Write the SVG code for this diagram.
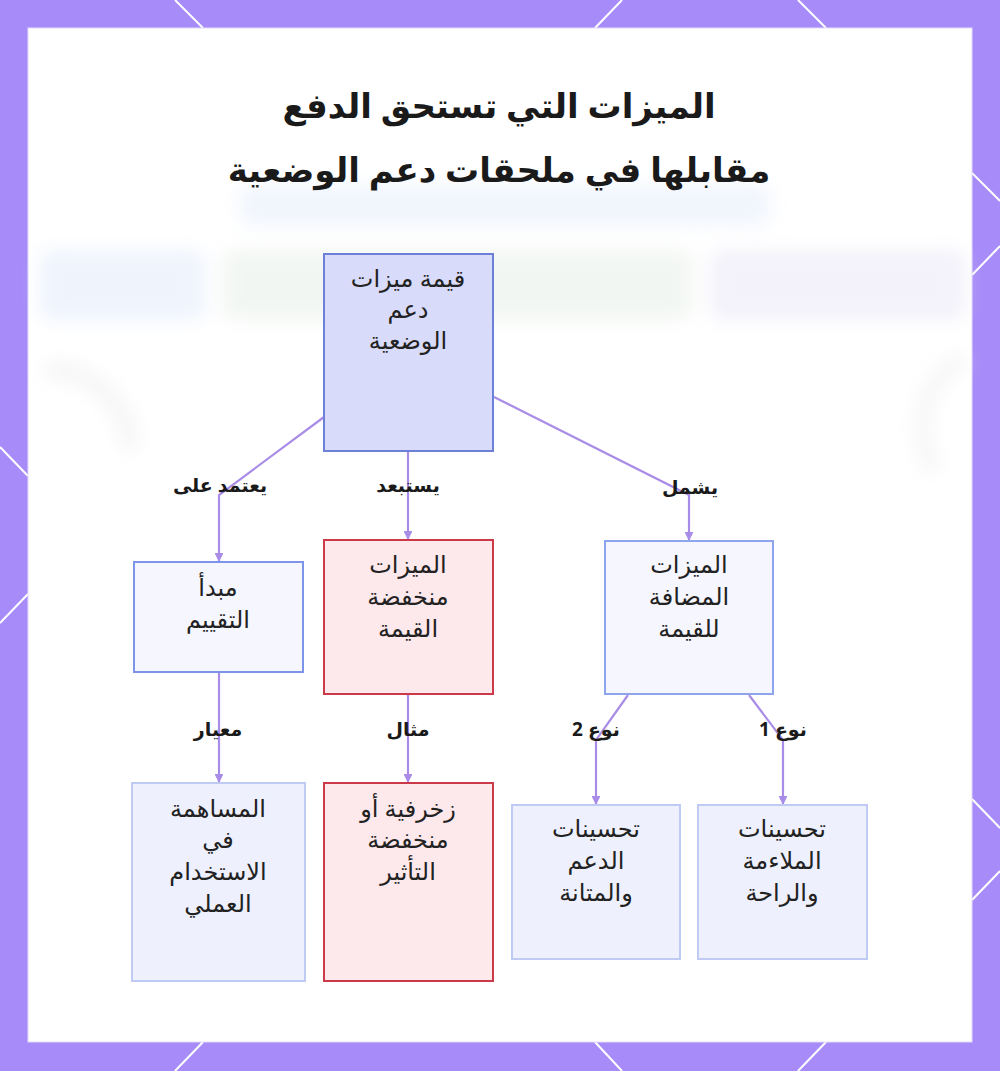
<svg xmlns="http://www.w3.org/2000/svg" width="1000" height="1071" viewBox="0 0 1000 1071">
<defs>
<style>
.t{font-family:"Noto Sans","DejaVu Sans",sans-serif;font-size:24px;fill:#222;text-anchor:middle}
.ttl{font-family:"Noto Sans","DejaVu Sans",sans-serif;font-size:34px;font-weight:bold;fill:#1a1a1a;text-anchor:middle}
.lbl{font-family:"Noto Sans","DejaVu Sans",sans-serif;font-size:19px;font-weight:bold;fill:#1a1a1a;text-anchor:middle}
.hex{stroke:#ffffff;stroke-width:2;fill:none}
.edge{stroke:#a98ce8;stroke-width:2.2;fill:none;marker-end:url(#ah)}
.root{fill:#d9dbfb;stroke:#6c80d8;stroke-width:2}
.mid{fill:#f5f6fe;stroke:#7d95e8;stroke-width:2}
.light{fill:#eef1fd;stroke:#c0cbf4;stroke-width:2}
.red{fill:#fde8eb;stroke:#cc3a4a;stroke-width:2}
</style>
<marker id="ah" viewBox="0 0 10 10" refX="9" refY="5" markerWidth="4" markerHeight="4" orient="auto">
<path d="M0,0 L10,5 L0,10 z" fill="#a98ce8"/>
</marker>
<filter id="blur" x="-20%" y="-20%" width="140%" height="140%"><feGaussianBlur stdDeviation="9"/></filter>
</defs>

<rect x="0" y="0" width="1000" height="1071" fill="#a78bf8"/>
<g id="frame-lines">
<line class="hex" x1="175" y1="0" x2="203" y2="28"/>
<line class="hex" x1="622" y1="0" x2="595" y2="28"/>
<line class="hex" x1="798" y1="0" x2="826" y2="28"/>
<line class="hex" x1="203" y1="1042" x2="175" y2="1071"/>
<line class="hex" x1="595" y1="1042" x2="622" y2="1071"/>
<line class="hex" x1="826" y1="1042" x2="798" y2="1071"/>
<line class="hex" x1="0" y1="447" x2="28" y2="476"/>
<line class="hex" x1="28" y1="594" x2="0" y2="623"/>
<line class="hex" x1="972" y1="173" x2="1000" y2="201"/>
<line class="hex" x1="972" y1="275" x2="1000" y2="246"/>
<line class="hex" x1="972" y1="799" x2="1000" y2="828"/>
<line class="hex" x1="972" y1="900" x2="1000" y2="871"/>
</g>
<rect x="28" y="28" width="944" height="1014" fill="#ffffff" stroke="#e4dcfb" stroke-width="1"/>

<g id="background" filter="url(#blur)" opacity="0.5">
<rect x="40" y="250" width="165" height="70" rx="10" fill="#dfe8fa"/>
<rect x="222" y="250" width="470" height="70" rx="10" fill="#e6eee6"/>
<rect x="710" y="250" width="255" height="70" rx="10" fill="#e8e4f4"/>
<rect x="240" y="185" width="530" height="40" rx="10" fill="#e3ebfa"/>
<path d="M45,370 A80,80 0 0 1 130,450" stroke="#ececec" stroke-width="18" fill="none"/>
<path d="M965,360 A60,70 0 0 0 935,470" stroke="#eeeeee" stroke-width="18" fill="none"/>
</g>

<g id="title">
<text class="ttl" x="499" y="118">الميزات التي تستحق الدفع</text>
<text class="ttl" x="499" y="182">مقابلها في ملحقات دعم الوضعية</text>
</g>

<g id="connectors">
<polyline class="edge" points="324,417 219,495 219,561"/>
<line class="edge" x1="408" y1="451" x2="408" y2="539"/>
<polyline class="edge" points="494,397 689,495 689,540"/>
<line class="edge" x1="219" y1="672" x2="219" y2="782"/>
<line class="edge" x1="408" y1="694" x2="408" y2="782"/>
<polyline class="edge" points="628,695 596,740 596,804"/>
<polyline class="edge" points="749,695 783,740 783,804"/>
<text class="lbl" x="220" y="492">يعتمد على</text>
<text class="lbl" x="408" y="492">يستبعد</text>
<text class="lbl" x="690" y="494">يشمل</text>
<text class="lbl" x="218" y="736">معيار</text>
<text class="lbl" x="408" y="736">مثال</text>
<text class="lbl" x="596" y="736">نوع 2</text>
<text class="lbl" x="783" y="736">نوع 1</text>
</g>

<g id="node-root">
<rect class="root" x="324" y="254" width="169" height="197"/>
<text class="t" x="408" y="287">قيمة ميزات</text>
<text class="t" x="408" y="318">دعم</text>
<text class="t" x="408" y="349">الوضعية</text>
</g>

<g id="node-principle">
<rect class="mid" x="134" y="562" width="169" height="110"/>
<text class="t" x="218" y="596">مبدأ</text>
<text class="t" x="218" y="628">التقييم</text>
</g>

<g id="node-low">
<rect class="red" x="324" y="540" width="169" height="154"/>
<text class="t" x="408" y="573">الميزات</text>
<text class="t" x="408" y="605">منخفضة</text>
<text class="t" x="408" y="637">القيمة</text>
</g>

<g id="node-added">
<rect class="mid" x="605" y="541" width="168" height="153" style="stroke:#8ea4ec"/>
<text class="t" x="689" y="573">الميزات</text>
<text class="t" x="689" y="605">المضافة</text>
<text class="t" x="689" y="637">للقيمة</text>
</g>

<g id="node-practical">
<rect class="light" x="132" y="783" width="173" height="198"/>
<text class="t" x="218" y="817">المساهمة</text>
<text class="t" x="218" y="848">في</text>
<text class="t" x="218" y="880">الاستخدام</text>
<text class="t" x="218" y="912">العملي</text>
</g>

<g id="node-decorative">
<rect class="red" x="324" y="783" width="169" height="198"/>
<text class="t" x="408" y="817">زخرفية أو</text>
<text class="t" x="408" y="848">منخفضة</text>
<text class="t" x="408" y="880">التأثير</text>
</g>

<g id="node-support">
<rect class="light" x="512" y="805" width="168" height="154"/>
<text class="t" x="596" y="837">تحسينات</text>
<text class="t" x="596" y="869">الدعم</text>
<text class="t" x="596" y="901">والمتانة</text>
</g>

<g id="node-comfort">
<rect class="light" x="698" y="805" width="169" height="154"/>
<text class="t" x="782" y="837">تحسينات</text>
<text class="t" x="782" y="869">الملاءمة</text>
<text class="t" x="782" y="901">والراحة</text>
</g>
</svg>
